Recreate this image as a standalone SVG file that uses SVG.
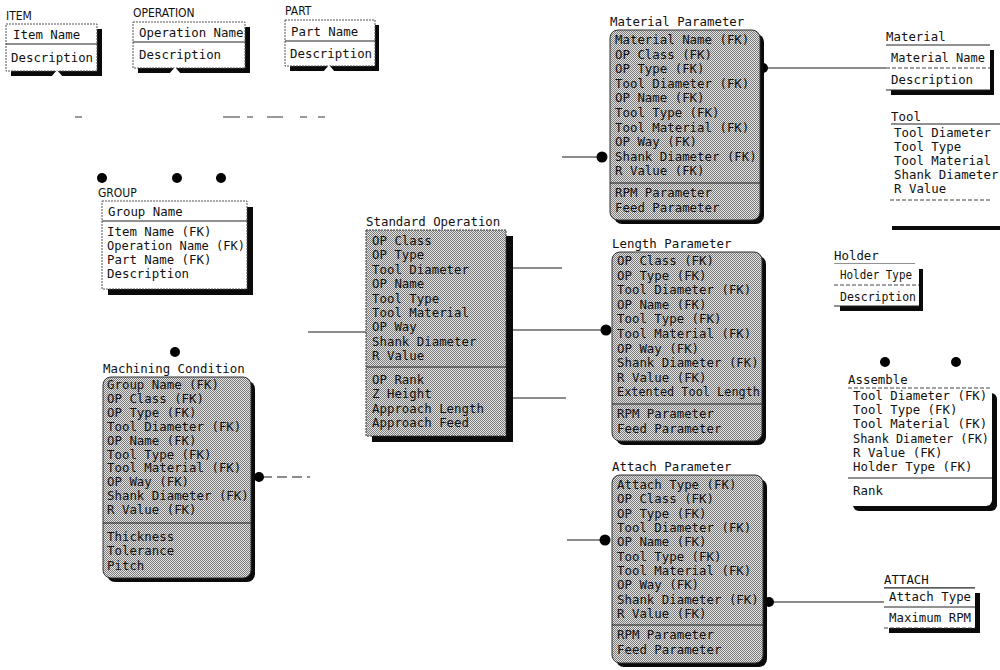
<svg xmlns="http://www.w3.org/2000/svg" width="1000" height="670" viewBox="0 0 1000 670">
<style>
text{font-family:"DejaVu Sans Mono","Liberation Mono",monospace;font-size:12.4px;fill:#111}
.lbl{font-family:"DejaVu Sans Condensed","DejaVu Sans",sans-serif;font-size:12px}
.wb{fill:#fff;stroke:#555;stroke-width:1;stroke-dasharray:2 1}
.wf{fill:#fff}
.sh{fill:#0a0a0a}
.gb{fill:url(#dith);stroke:#333;stroke-width:1}
.div{stroke:#222;stroke-width:1}
.dsh{stroke:#444;stroke-width:1;stroke-dasharray:4 2}
.conn{stroke:#1a1a1a;stroke-width:1.2;fill:none}
.cdash{stroke:#1a1a1a;stroke-width:1.2;fill:none;stroke-dasharray:10 5}
.dot{fill:#000}
.faint{stroke:#777;stroke-width:1.5}
</style>
<defs>
<pattern id="dith" width="2" height="2" patternUnits="userSpaceOnUse">
<rect width="2" height="2" fill="#e2e2e2"/>
<rect width="1" height="1" fill="#7c7c7c"/>
<rect x="1" y="1" width="1" height="1" fill="#7c7c7c"/>
</pattern>
</defs>
<rect width="1000" height="670" fill="#fff"/>

<g id="connectors">
<path class="faint" d="M75 117H82M223 117H240M247 117H253M267 117H283M300 117H307M318 117H325"/>
<path class="conn" d="M308 332H366"/>
<path class="conn" d="M513 268H562"/>
<path class="conn" d="M506 330H602"/>
<path class="conn" d="M513 398H566"/>
<path class="conn" d="M562 157H600"/>
<path class="conn" d="M567 540H602"/>
<path class="conn" d="M765 68H886"/>
<path class="conn" d="M772 602H884"/>
<path class="cdash" d="M262 477H310"/>
<circle class="dot" cx="102" cy="178" r="5"/>
<circle class="dot" cx="177" cy="178" r="5"/>
<circle class="dot" cx="221" cy="178" r="5"/>
<circle class="dot" cx="175" cy="352" r="5"/>
<circle class="dot" cx="259" cy="477" r="5"/>
<circle class="dot" cx="602" cy="157" r="5.5"/>
<circle class="dot" cx="763" cy="68" r="5"/>
<circle class="dot" cx="606" cy="330" r="5.5"/>
<circle class="dot" cx="605" cy="540" r="5.5"/>
<circle class="dot" cx="769" cy="602" r="5"/>
<circle class="dot" cx="885" cy="362" r="5"/>
<circle class="dot" cx="956" cy="362" r="5"/>
</g>

<g id="item">
<text class="lbl" x="6" y="20">ITEM</text>
<rect class="sh" x="11" y="29" width="91" height="47"/>
<rect class="wb" x="6" y="24" width="91" height="47"/>
<line class="div" x1="6" y1="44" x2="97" y2="44"/>
<polygon points="51,77 57,70 63,77" fill="#fff"/>
<text x="13" y="39">Item Name</text>
<text x="11" y="62">Description</text>
</g>

<g id="operation">
<text class="lbl" x="133" y="17">OPERATION</text>
<rect class="sh" x="138" y="27" width="112" height="46"/>
<rect class="wb" x="133" y="22" width="112" height="46"/>
<line class="div" x1="133" y1="42" x2="245" y2="42"/>
<polygon points="169,74 175,67 181,74" fill="#fff"/>
<text x="139" y="37">Operation Name</text>
<text x="139" y="59">Description</text>
</g>

<g id="part">
<text class="lbl" x="285" y="15">PART</text>
<rect class="sh" x="290" y="25" width="89" height="46"/>
<rect class="wb" x="285" y="20" width="90" height="46"/>
<line class="div" x1="285" y1="41" x2="375" y2="41"/>
<polygon points="323,72 329,65 335,72" fill="#fff"/>
<text x="291" y="36">Part Name</text>
<text x="290" y="58">Description</text>
</g>

<g id="group">
<text class="lbl" x="98" y="197">GROUP</text>
<rect class="sh" x="108" y="207" width="145" height="88"/>
<rect class="wb" x="102" y="201" width="145" height="88"/>
<line class="div" x1="102" y1="221" x2="247" y2="221"/>
<text x="108" y="216">Group Name</text>
<text x="107" y="236">Item Name (FK)</text>
<text x="107" y="250" textLength="138" lengthAdjust="spacingAndGlyphs">Operation Name (FK)</text>
<text x="107" y="264">Part Name (FK)</text>
<text x="107" y="278">Description</text>
</g>

<g id="machining-condition">
<text x="103" y="373">Machining Condition</text>
<rect class="sh" x="107" y="381" width="148" height="201" rx="8"/>
<rect class="gb" x="103" y="377" width="148" height="201" rx="8"/>
<line class="div" x1="103" y1="523" x2="251" y2="523"/>
<text x="107" y="389">Group Name (FK)</text>
<text x="107" y="403">OP Class (FK)</text>
<text x="107" y="417">OP Type (FK)</text>
<text x="107" y="431">Tool Diameter (FK)</text>
<text x="107" y="445">OP Name (FK)</text>
<text x="107" y="459">Tool Type (FK)</text>
<text x="107" y="472">Tool Material (FK)</text>
<text x="107" y="486">OP Way (FK)</text>
<text x="107" y="500">Shank Diameter (FK)</text>
<text x="107" y="514">R Value (FK)</text>
<text x="107" y="541">Thickness</text>
<text x="107" y="555">Tolerance</text>
<text x="107" y="570">Pitch</text>
</g>

<g id="standard-operation">
<text x="366" y="226">Standard Operation</text>
<rect class="sh" x="372" y="236" width="141" height="206"/>
<rect class="gb" x="366" y="230" width="140" height="206" stroke-dasharray="2 1"/>
<line class="div" x1="366" y1="367" x2="506" y2="367"/>
<text x="372" y="245">OP Class</text>
<text x="372" y="259">OP Type</text>
<text x="372" y="274">Tool Diameter</text>
<text x="372" y="288">OP Name</text>
<text x="372" y="303">Tool Type</text>
<text x="372" y="317">Tool Material</text>
<text x="372" y="331">OP Way</text>
<text x="372" y="346">Shank Diameter</text>
<text x="372" y="360">R Value</text>
<text x="372" y="384">OP Rank</text>
<text x="372" y="398">Z Height</text>
<text x="372" y="413">Approach Length</text>
<text x="372" y="427">Approach Feed</text>
</g>

<g id="material-parameter">
<text x="610" y="26">Material Parameter</text>
<rect class="sh" x="614" y="34" width="150" height="190" rx="8"/>
<rect class="gb" x="610" y="30" width="150" height="190" rx="8"/>
<line class="div" x1="610" y1="183" x2="760" y2="183"/>
<text x="615" y="44">Material Name (FK)</text>
<text x="615" y="59">OP Class (FK)</text>
<text x="615" y="73">OP Type (FK)</text>
<text x="615" y="88">Tool Diameter (FK)</text>
<text x="615" y="102">OP Name (FK)</text>
<text x="615" y="117">Tool Type (FK)</text>
<text x="615" y="132">Tool Material (FK)</text>
<text x="615" y="146">OP Way (FK)</text>
<text x="615" y="161">Shank Diameter (FK)</text>
<text x="615" y="175">R Value (FK)</text>
<text x="615" y="197">RPM Parameter</text>
<text x="615" y="212">Feed Parameter</text>
</g>

<g id="length-parameter">
<text x="612" y="248">Length Parameter</text>
<rect class="sh" x="616" y="256" width="150" height="189" rx="8"/>
<rect class="gb" x="612" y="252" width="150" height="189" rx="8"/>
<line class="div" x1="612" y1="404" x2="762" y2="404"/>
<text x="617" y="265">OP Class (FK)</text>
<text x="617" y="280">OP Type (FK)</text>
<text x="617" y="294">Tool Diameter (FK)</text>
<text x="617" y="309">OP Name (FK)</text>
<text x="617" y="323">Tool Type (FK)</text>
<text x="617" y="338">Tool Material (FK)</text>
<text x="617" y="353">OP Way (FK)</text>
<text x="617" y="367">Shank Diameter (FK)</text>
<text x="617" y="382">R Value (FK)</text>
<text x="617" y="396" textLength="143" lengthAdjust="spacingAndGlyphs">Extented Tool Length</text>
<text x="617" y="418">RPM Parameter</text>
<text x="617" y="433">Feed Parameter</text>
</g>

<g id="attach-parameter">
<text x="612" y="471">Attach Parameter</text>
<rect class="sh" x="616" y="479" width="151" height="188" rx="8"/>
<rect class="gb" x="612" y="475" width="151" height="188" rx="8"/>
<line class="div" x1="612" y1="625" x2="763" y2="625"/>
<text x="617" y="489">Attach Type (FK)</text>
<text x="617" y="503">OP Class (FK)</text>
<text x="617" y="518">OP Type (FK)</text>
<text x="617" y="532">Tool Diameter (FK)</text>
<text x="617" y="546">OP Name (FK)</text>
<text x="617" y="561">Tool Type (FK)</text>
<text x="617" y="575">Tool Material (FK)</text>
<text x="617" y="589">OP Way (FK)</text>
<text x="617" y="604">Shank Diameter (FK)</text>
<text x="617" y="618">R Value (FK)</text>
<text x="617" y="639">RPM Parameter</text>
<text x="617" y="654">Feed Parameter</text>
</g>

<g id="material">
<text x="886" y="41">Material</text>
<rect class="sh" x="891" y="50" width="103" height="45"/>
<rect class="wf" x="886" y="45" width="104" height="45"/>
<line class="div" x1="886" y1="45" x2="990" y2="45"/>
<line class="dsh" x1="886" y1="68" x2="990" y2="68"/>
<line class="div" x1="886" y1="90" x2="990" y2="90"/>
<text x="891" y="62" textLength="94" lengthAdjust="spacingAndGlyphs">Material Name</text>
<text x="891" y="84">Description</text>
</g>

<g id="tool">
<text x="891" y="121">Tool</text>
<line class="div" x1="891" y1="124" x2="1000" y2="124"/>
<text x="894" y="137">Tool Diameter</text>
<text x="894" y="151">Tool Type</text>
<text x="894" y="165">Tool Material</text>
<text x="894" y="179">Shank Diameter</text>
<text x="894" y="193">R Value</text>
<line class="dsh" x1="890" y1="200" x2="990" y2="200"/>
<rect class="sh" x="892" y="226" width="108" height="4"/>
</g>

<g id="holder">
<text x="834" y="260">Holder</text>
<line class="div" x1="834" y1="264" x2="915" y2="264"/>
<rect class="sh" x="840" y="269" width="83" height="42"/>
<rect class="wf" x="834" y="264" width="85" height="42"/>
<line class="dsh" x1="834" y1="285" x2="919" y2="285"/>
<line class="div" x1="834" y1="306" x2="919" y2="306"/>
<text x="840" y="279" textLength="72" lengthAdjust="spacingAndGlyphs">Holder Type</text>
<text x="840" y="301" textLength="76" lengthAdjust="spacingAndGlyphs">Description</text>
</g>

<g id="assemble">
<text x="848" y="384">Assemble</text>
<rect class="sh" x="853" y="393" width="144" height="118" rx="6"/>
<rect class="wf" x="848" y="388" width="144" height="118" rx="6"/>
<line class="dsh" x1="848" y1="388" x2="990" y2="388"/>
<line class="div" x1="848" y1="478" x2="992" y2="478"/>
<text x="853" y="400">Tool Diameter (FK)</text>
<text x="853" y="414">Tool Type (FK)</text>
<text x="853" y="428">Tool Material (FK)</text>
<text x="853" y="443" textLength="136" lengthAdjust="spacingAndGlyphs">Shank Diameter (FK)</text>
<text x="853" y="457">R Value (FK)</text>
<text x="853" y="471">Holder Type (FK)</text>
<text x="853" y="495">Rank</text>
</g>

<g id="attach">
<text x="884" y="584">ATTACH</text>
<line class="div" x1="884" y1="588" x2="975" y2="588"/>
<rect class="sh" x="889" y="593" width="91" height="40"/>
<rect class="wf" x="884" y="588" width="91" height="40"/>
<line class="div" x1="884" y1="588" x2="975" y2="588"/>
<line class="div" x1="884" y1="607" x2="975" y2="607"/>
<line class="dsh" x1="884" y1="628" x2="975" y2="628"/>
<text x="889" y="601">Attach Type</text>
<text x="889" y="622">Maximum RPM</text>
</g>
</svg>
